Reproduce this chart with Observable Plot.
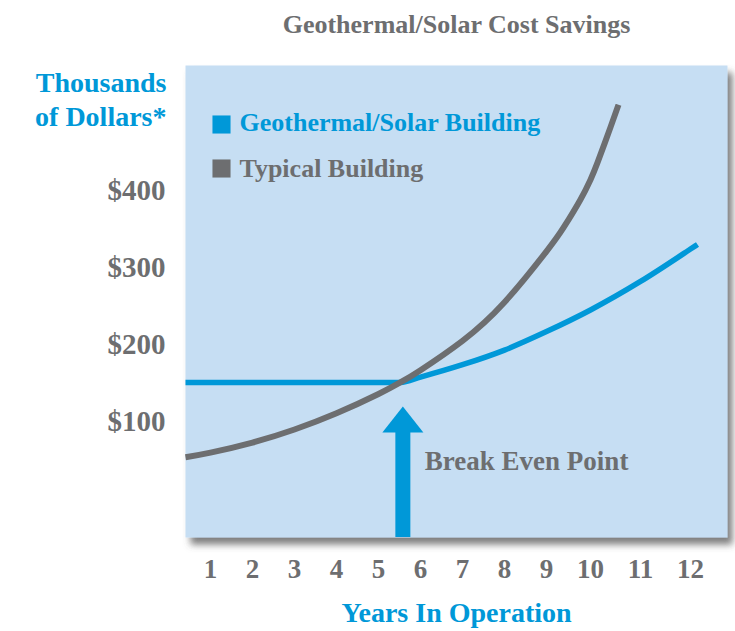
<!DOCTYPE html>
<html>
<head>
<meta charset="utf-8">
<script src="https://cdn.jsdelivr.net/npm/d3@7"></script>
<script src="https://cdn.jsdelivr.net/npm/@observablehq/plot@0.6"></script>
<style>
  html, body { margin: 0; padding: 0; background: #ffffff; }
  #chart { width: 735px; height: 631px; }
</style>
</head>
<body>
<div id="chart"></div>
<script>
// ---- data ----
const xTickLabels = [1, 2, 3, 4, 5, 6, 7, 8, 9, 10, 11, 12];
const yTickValues = [100, 200, 300, 400];
const seriesNames = ["Geothermal/Solar Building", "Typical Building"];

const geoYears  = [0.405, 5.52, 6, 7, 8, 9, 10, 11, 12, 12.14];
const geoValues = [151, 151, 158, 174, 193, 217, 245, 282, 324, 330];

const typYears  = [0.405, 1, 2, 3, 4, 5, 5.52, 6, 7, 8, 9, 9.39, 9.77, 10, 10.14, 10.4, 10.56];
const typValues = [54, 60, 73, 90, 111, 136, 151, 167, 205, 255, 321, 352, 388, 414, 436, 482, 511];

const breakEven = { year: 5.58, tip: 120, label: "Break Even Point" };

const titleText = "Geothermal/Solar Cost Savings";
const yTitle = "Thousands\nof Dollars*";
const xTitle = "Years In Operation";

// ---- styling ----
const BLUE = "#0098d8";
const GRAY = "#6d6e70";
const PANEL = "#c6def3";
const colors = [BLUE, GRAY];

const geo = geoYears.map((x, i) => ({ x, y: geoValues[i] }));
const typ = typYears.map((x, i) => ({ x, y: typValues[i] }));

// the year labels are unevenly spaced in the original (wider after 9):
// a piecewise transform reproduces that spacing
const yearSpacing = d3.scaleLinear().domain([0.405, 9, 10, 12.74]).range([0, 361, 405, 542]);

const arrowHead = {
  draw(context) {
    context.moveTo(0, 0);
    context.lineTo(20.5, 26);
    context.lineTo(-20.5, 26);
    context.closePath();
  }
};

const yDomain = [-50, 562];

const chart = Plot.plot({
  width: 735,
  height: 631,
  marginLeft: 185,
  marginRight: 8,
  marginTop: 65,
  marginBottom: 94,
  x: { transform: yearSpacing, domain: [0, 542], axis: null },
  y: { domain: yDomain, axis: null },
  style: { fontFamily: "'Liberation Serif', 'Times New Roman', serif", background: "#ffffff", overflow: "visible" },
  marks: [
    Plot.frame({ fill: PANEL, stroke: null }),
    // series
    Plot.line(geo, { x: "x", y: "y", stroke: BLUE, strokeWidth: 5.5, curve: "monotone-x", strokeLinecap: "butt" }),
    Plot.line(typ, { x: "x", y: "y", stroke: GRAY, strokeWidth: 6, curve: "natural", strokeLinecap: "butt" }),
    // break-even arrow
    Plot.ruleX([breakEven], { x: "year", y1: "tip", y2: () => yDomain[0], stroke: BLUE, strokeWidth: 15, insetTop: 20 }),
    Plot.dot([breakEven], { x: "year", y: "tip", symbol: arrowHead, fill: BLUE, r: 10 }),
    Plot.text([breakEven], { x: "year", y: "tip", text: "label", dx: 22, dy: 55, textAnchor: "start", lineAnchor: "middle",
      fill: GRAY, fontSize: 27, fontWeight: "bold", letterSpacing: "-1px" }),
    // legend
    ...seriesNames.flatMap((name, i) => [
      Plot.dot([name], { frameAnchor: "top-left", dx: 36, dy: 59 + 44 * i, symbol: "square", r: 10.2, fill: colors[i] }),
      Plot.text([name], { frameAnchor: "top-left", dx: 54, dy: 57 + 46 * i, text: d => d, textAnchor: "start", lineAnchor: "middle",
        fill: colors[i], fontSize: 26, fontWeight: "bold" })
    ]),
    // tick labels
    Plot.text(xTickLabels, { x: d => d, text: d => String(d), frameAnchor: "bottom", lineAnchor: "middle", dy: 32,
      fill: GRAY, fontSize: 27, fontWeight: "bold" }),
    Plot.text(yTickValues, { y: d => d, text: d => "$" + d, frameAnchor: "left", textAnchor: "end", lineAnchor: "middle", dx: -20,
      fill: GRAY, fontSize: 29, fontWeight: "bold" }),
    // titles
    Plot.text([titleText], { text: d => d, frameAnchor: "top", lineAnchor: "middle", dy: -41, fill: GRAY, fontSize: 26, fontWeight: "bold" }),
    Plot.text([yTitle], { text: d => d, frameAnchor: "top-left", textAnchor: "end", lineAnchor: "top", dx: -19, dy: 2,
      lineHeight: 1.214, fill: BLUE, fontSize: 28, fontWeight: "bold" }),
    Plot.text([xTitle], { text: d => d, frameAnchor: "bottom", lineAnchor: "middle", dy: 76, fill: BLUE, fontSize: 28, fontWeight: "bold" })
  ]
});

// drop shadow under the panel
const svg = d3.select(chart);
const defs = svg.insert("defs", ":first-child");
defs.append("filter")
  .attr("id", "panelShadow")
  .attr("x", "-5%").attr("y", "-5%").attr("width", "115%").attr("height", "115%")
  .append("feDropShadow")
  .attr("dx", 5).attr("dy", 7).attr("stdDeviation", 3.5)
  .attr("flood-color", "#555555").attr("flood-opacity", 0.75);
svg.select('[aria-label="frame"]').attr("filter", "url(#panelShadow)");

document.getElementById("chart").appendChild(chart);
</script>
</body>
</html>
